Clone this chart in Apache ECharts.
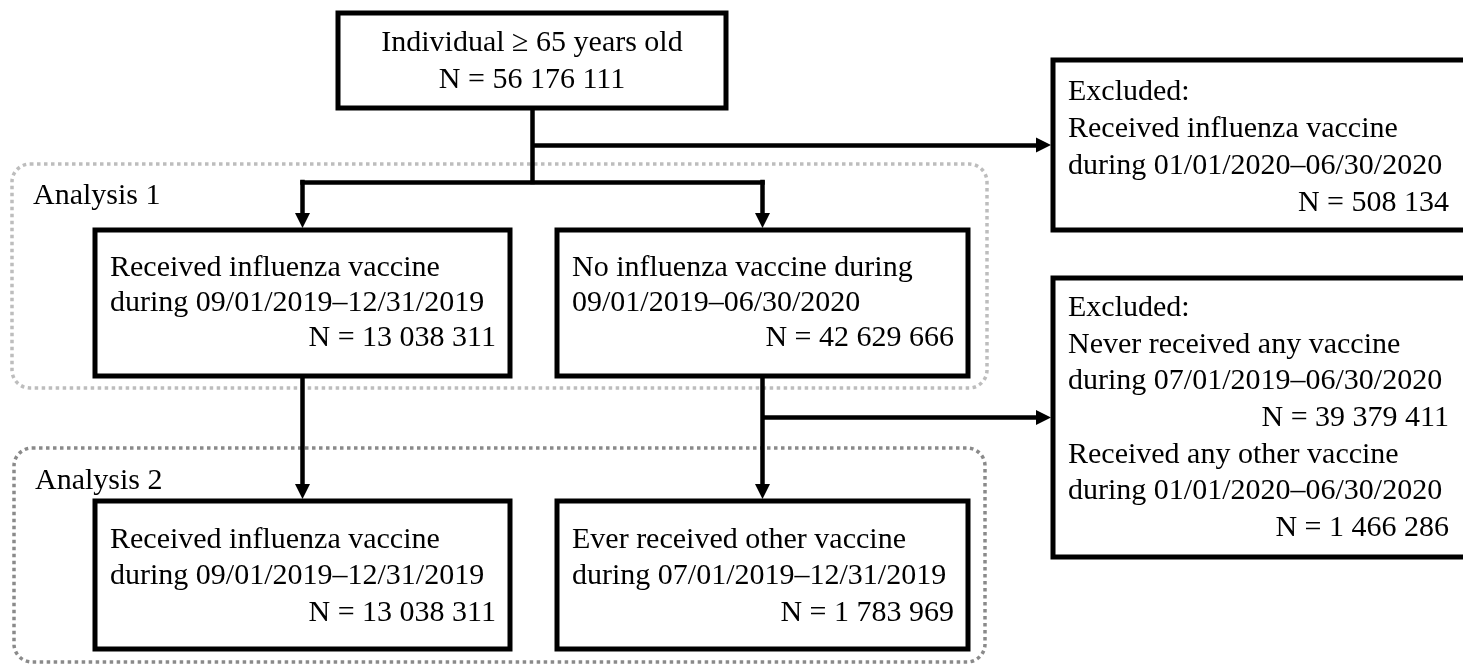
<!DOCTYPE html>
<html>
<head>
<meta charset="utf-8">
<title>Flow chart</title>
<script src="https://cdn.jsdelivr.net/npm/echarts@6/dist/echarts.min.js"></script>
<style>
  html, body { margin: 0; padding: 0; background: #fff; }
  #main { width: 1463px; height: 664px; }
</style>
</head>
<body>
<div id="main"></div>
<script>
// ---- data: box texts and counts ----
const boxTitles = [
  ['Individual \u2265 65 years old'],
  ['Excluded:', 'Received influenza vaccine', 'during 01/01/2020\u201306/30/2020'],
  ['Received influenza vaccine', 'during 09/01/2019\u201312/31/2019'],
  ['No influenza vaccine during', '09/01/2019\u201306/30/2020'],
  ['Excluded:', 'Never received any vaccine', 'during 07/01/2019\u201306/30/2020',
   'Received any other vaccine', 'during 01/01/2020\u201306/30/2020'],
  ['Received influenza vaccine', 'during 09/01/2019\u201312/31/2019'],
  ['Ever received other vaccine', 'during 07/01/2019\u201312/31/2019']
];
const boxCounts = [[56176111], [508134], [13038311], [42629666], [39379411, 1466286], [13038311], [1783969]];
// the "N = ..." line comes after this title line
const countAfter = [[0], [2], [1], [1], [2, 4], [1], [1]];
const groupLabels = ['Analysis 1', 'Analysis 2'];

// ---- layout (pixels) ----
const W = 1463, H = 664;
const boxRects = [
  [338, 13, 726, 108],
  [1053, 60, 1468, 230],
  [95, 230, 510, 376],
  [557, 230, 968, 376],
  [1053, 278, 1468, 557],
  [95, 501, 510, 649],
  [557, 501, 968, 649]
];
const boxCentered = [true, false, false, false, false, false, false];
const boxFirstLine = [43, 92, 268, 268, 308, 540, 540];
const boxLineGap = [37, 37, 35, 35, 36.7, 36.5, 36.5];
const groupRects = [[12, 164, 987, 388], [14, 448, 985, 662]];
const groupColors = ['#bdbdbd', '#8a8a8a'];
const groupLabelY = [196, 481];
const branchY = 182;
const FONT = '30px "Liberation Serif", "Times New Roman", serif';
const BOX_LW = 5, LINK_LW = 4.5, ARROW = 15;

function fmt(n) {
  return String(n).replace(/\B(?=(\d{3})+(?!\d))/g, ' ');
}

function rowsOf(i) {
  const rows = [];
  boxTitles[i].forEach((t, k) => {
    rows.push({ text: t, right: false });
    countAfter[i].forEach((a, j) => {
      if (a === k) rows.push({ text: 'N = ' + fmt(boxCounts[i][j]), right: true });
    });
  });
  return rows;
}

// connectors, derived from box geometry
const cx = r => (r[0] + r[2]) / 2;
const cy = r => (r[1] + r[3]) / 2;
const tipPad = BOX_LW / 2 + ARROW / 2 - 0.5;
const half = LINK_LW / 2;
const [bStart, bEx1, bA1, bA1n, bEx2, bA2, bA2o] = boxRects;

const plainSegs = [
  [[cx(bStart), bStart[3]], [cx(bStart), branchY + half]],
  [[cx(bA1) - half, branchY], [cx(bA1n) + half, branchY]]
];
const arrowSegs = [
  [[cx(bStart), cy(bEx1)], [bEx1[0] - tipPad, cy(bEx1)]],
  [[cx(bA1), branchY - half], [cx(bA1), bA1[1] - tipPad]],
  [[cx(bA1n), branchY - half], [cx(bA1n), bA1n[1] - tipPad]],
  [[cx(bA1), bA1[3]], [cx(bA1), bA2[1] - tipPad]],
  [[cx(bA1n), bA1n[3]], [cx(bA1n), bA2o[1] - tipPad]],
  [[cx(bA1n), cy(bEx2)], [bEx2[0] - tipPad, cy(bEx2)]]
];

var myChart = echarts.init(document.getElementById('main'), null, { renderer: 'canvas' });

var option = {
  animation: false,
  backgroundColor: '#fff',
  grid: { left: 0, right: 0, top: 0, bottom: 0 },
  xAxis: { type: 'value', min: 0, max: W, show: false },
  yAxis: { type: 'value', min: 0, max: H, inverse: true, show: false },
  series: [
    // dotted analysis frames
    {
      type: 'custom',
      z: 1,
      silent: true,
      data: groupRects.map((r, i) => [r[0], r[1], r[2], r[3], i]),
      renderItem: function (params, api) {
        const i = api.value(4);
        const p0 = api.coord([api.value(0), api.value(1)]);
        const p1 = api.coord([api.value(2), api.value(3)]);
        const lab = api.coord([0, groupLabelY[i]]);
        return {
          type: 'group',
          children: [
            {
              type: 'rect',
              shape: { x: p0[0], y: p0[1], width: p1[0] - p0[0], height: p1[1] - p0[1], r: 18 },
              style: { fill: null, stroke: groupColors[i], lineWidth: 3.5, lineDash: [3.5, 3.5] }
            },
            {
              type: 'text',
              style: {
                text: groupLabels[i], x: p0[0] + 21, y: lab[1],
                font: FONT, fill: '#000', align: 'left', verticalAlign: 'middle'
              }
            }
          ]
        };
      }
    },
    // plain connector segments
    {
      type: 'lines',
      coordinateSystem: 'cartesian2d',
      z: 2,
      silent: true,
      symbol: ['none', 'none'],
      lineStyle: { color: '#000', width: LINK_LW, opacity: 1 },
      data: plainSegs.map(s => ({ coords: s }))
    },
    // arrows
    {
      type: 'lines',
      coordinateSystem: 'cartesian2d',
      z: 2,
      silent: true,
      symbol: ['none', 'triangle'],
      symbolSize: ARROW,
      lineStyle: { color: '#000', width: LINK_LW, opacity: 1 },
      data: arrowSegs.map(s => ({ coords: s }))
    },
    // boxes
    {
      type: 'custom',
      z: 3,
      silent: true,
      data: boxRects.map((r, i) => [r[0], r[1], r[2], r[3], i]),
      renderItem: function (params, api) {
        const i = api.value(4);
        const p0 = api.coord([api.value(0), api.value(1)]);
        const p1 = api.coord([api.value(2), api.value(3)]);
        const children = [{
          type: 'rect',
          shape: { x: p0[0], y: p0[1], width: p1[0] - p0[0], height: p1[1] - p0[1] },
          style: { fill: '#fff', stroke: '#000', lineWidth: BOX_LW }
        }];
        const pad = 14;
        rowsOf(i).forEach((row, k) => {
          const y = api.coord([0, boxFirstLine[i] + k * boxLineGap[i]])[1];
          let x, align;
          if (boxCentered[i]) { x = (p0[0] + p1[0]) / 2; align = 'center'; }
          else if (row.right) { x = Math.min(p1[0], W) - pad; align = 'right'; }
          else { x = p0[0] + pad + 1; align = 'left'; }
          children.push({
            type: 'text',
            style: { text: row.text, x: x, y: y, font: FONT, fill: '#000', align: align, verticalAlign: 'middle' }
          });
        });
        return { type: 'group', children: children };
      }
    }
  ]
};
myChart.setOption(option);
window.addEventListener('resize', () => {
  myChart.resize();
});
</script>
</body>
</html>
